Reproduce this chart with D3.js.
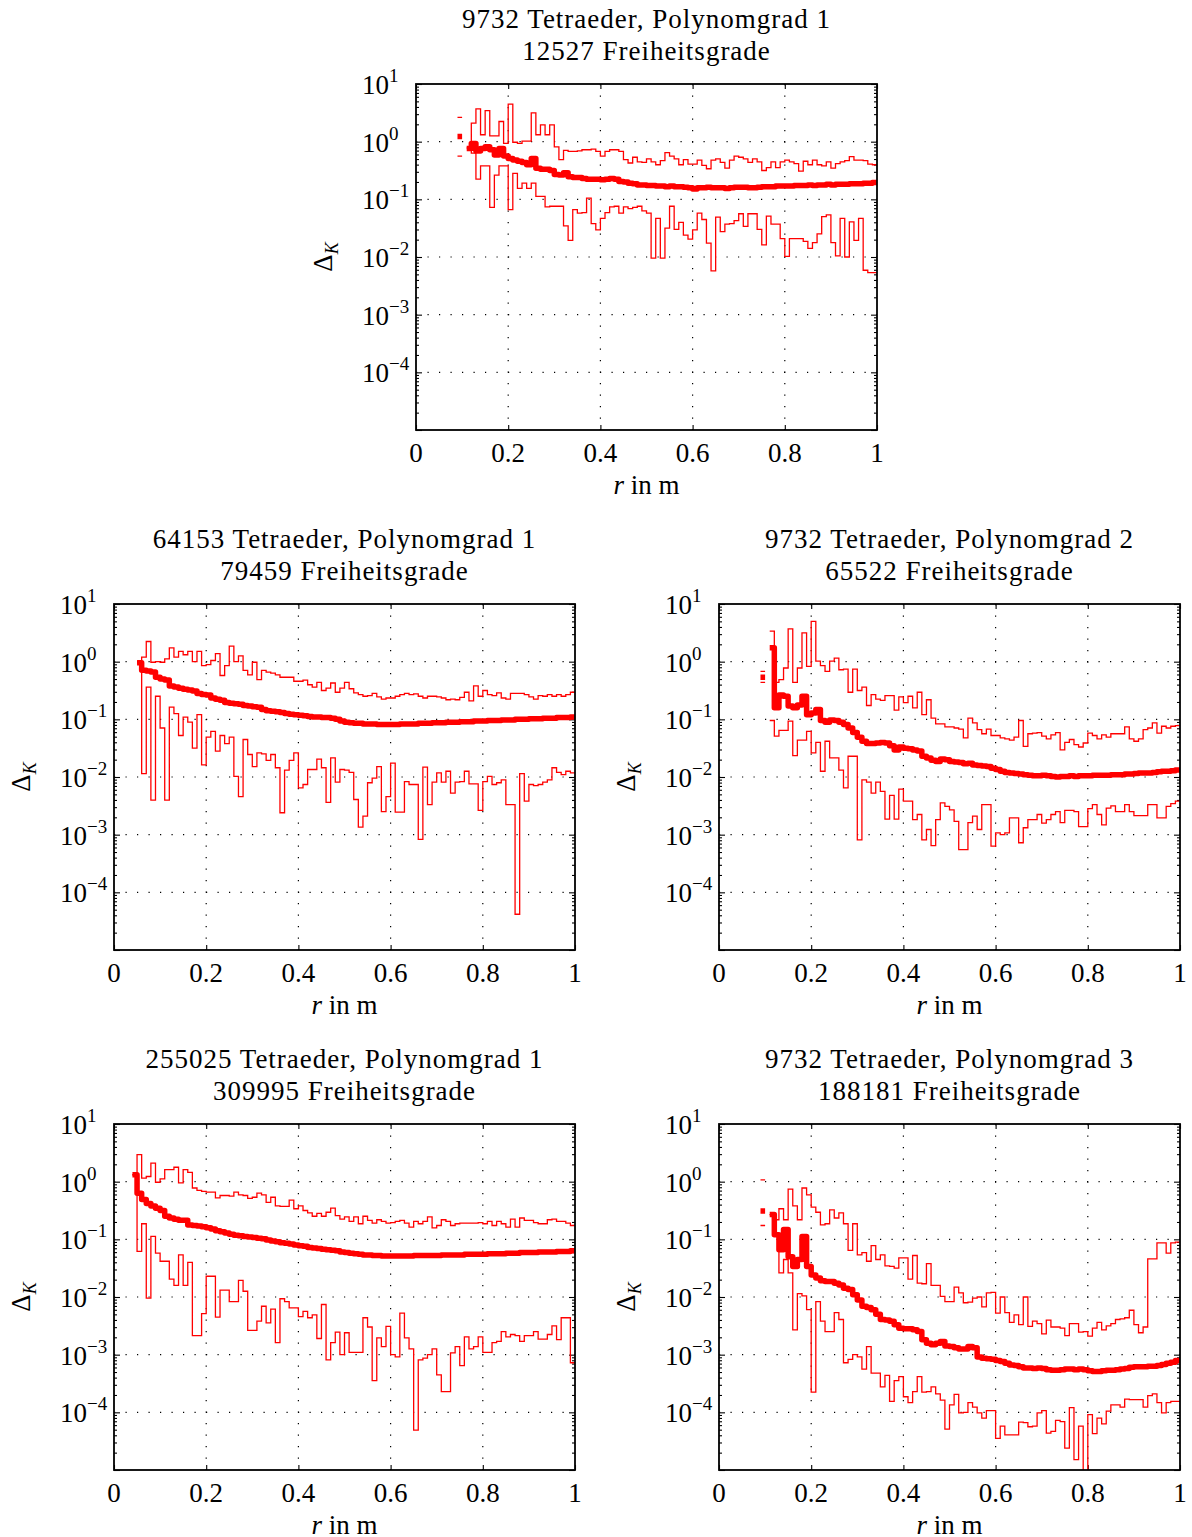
<!DOCTYPE html>
<html>
<head>
<meta charset="utf-8">
<script src="https://cdn.jsdelivr.net/npm/d3@7"></script>
<style>
  body { margin: 0; background: #fff; }
  svg text { font-family: "Liberation Serif", "Times New Roman", serif; fill: #000; }
  .grid { stroke: #000; stroke-width: 1.2; stroke-dasharray: 1.2 10.3; }
  .tick line { stroke: #000; stroke-width: 1.1; }
</style>
</head>
<body>
<svg id="chart" width="1192" height="1537"></svg>
<script>
// all values are log10(Delta_K) per radial bin of width 0.01 (bin i = [i/100, (i+1)/100]), null = empty bin
const _ = null
const binW = 0.01

const xTicks = [0, 0.2, 0.4, 0.6, 0.8, 1]
const yExp = [-5, -4, -3, -2, -1, 0, 1]
const yLabelExp = [-4, -3, -2, -1, 0, 1]

// 9732 Tetraeder, Polynomgrad 1
const aMax = [
  _,_,_,_,_,_,_,_,_,0.42,
  _,-0.10,0.32,0.57,0.12,0.54,0.10,0.10,0.35,-0.03,
  0.65,-0.01,-0.03,0.01,0.01,0.50,0.12,0.29,0.12,0.29,
  -0.09,-0.31,-0.15,-0.17,-0.17,-0.16,-0.14,-0.14,-0.13,-0.17,
  -0.25,-0.17,-0.14,-0.14,-0.17,-0.31,-0.37,-0.27,-0.35,-0.36,
  -0.30,-0.35,-0.40,-0.33,-0.19,-0.25,-0.30,-0.40,-0.31,-0.39,
  -0.39,-0.32,-0.41,-0.47,-0.32,-0.30,-0.36,-0.46,-0.32,-0.25,
  -0.27,-0.30,-0.36,-0.30,-0.35,-0.50,-0.45,-0.35,-0.45,-0.35,
  -0.32,-0.35,-0.38,-0.51,-0.34,-0.40,-0.32,-0.40,-0.42,-0.35,
  -0.46,-0.38,-0.35,-0.33,-0.26,-0.32,-0.32,-0.33,-0.39,-0.40
]
const aMean = [
  _,_,_,_,_,_,_,_,_,0.09,
  _,-0.12,-0.03,-0.16,-0.12,-0.09,-0.14,-0.23,-0.12,-0.25,
  -0.29,-0.32,-0.34,-0.36,-0.40,-0.29,-0.46,-0.48,-0.48,-0.50,
  -0.57,-0.58,-0.54,-0.61,-0.62,-0.62,-0.64,-0.65,-0.65,-0.65,
  -0.66,-0.65,-0.64,-0.65,-0.69,-0.70,-0.72,-0.73,-0.75,-0.75,
  -0.76,-0.76,-0.77,-0.77,-0.78,-0.77,-0.78,-0.78,-0.79,-0.80,
  -0.82,-0.80,-0.80,-0.79,-0.80,-0.80,-0.80,-0.81,-0.80,-0.79,
  -0.79,-0.79,-0.80,-0.80,-0.79,-0.78,-0.78,-0.78,-0.77,-0.77,
  -0.77,-0.77,-0.76,-0.76,-0.76,-0.75,-0.76,-0.75,-0.75,-0.74,
  -0.75,-0.74,-0.74,-0.74,-0.73,-0.73,-0.73,-0.72,-0.72,-0.71
]
const aMin = [
  _,_,_,_,_,_,_,_,_,-0.25,
  _,-0.12,-0.20,-0.65,-0.42,-0.42,-1.14,-0.58,-0.42,-0.42,
  -1.18,-0.55,-0.81,-0.72,-0.81,-0.72,-0.95,-0.95,-1.13,-1.12,
  -1.12,-1.12,-1.46,-1.71,-1.18,-1.24,-1.23,-0.98,-1.42,-1.53,
  -1.33,-1.23,-1.13,-1.12,-1.24,-1.13,-1.16,-1.14,-1.12,-1.20,
  -1.24,-2.02,-1.33,-2.02,-1.50,-1.12,-1.52,-1.40,-1.62,-1.69,
  -1.53,-1.24,-1.35,-1.76,-2.24,-1.31,-1.56,-1.43,-1.42,-1.37,
  -1.25,-1.47,-1.25,-1.25,-1.52,-1.79,-1.29,-1.43,-1.43,-1.68,
  -1.99,-1.68,-1.68,-1.68,-1.73,-1.85,-1.75,-1.60,-1.30,-1.27,
  -1.75,-1.98,-1.33,-2.00,-1.39,-1.71,-1.33,-2.23,-2.27,-2.27
]

// 64153 Tetraeder, Polynomgrad 1
const bMax = [
  _,_,_,_,_,-0.02,0.08,0.35,-0.01,0.00,
  -0.01,0.05,0.24,0.08,0.18,0.12,0.18,0.00,0.18,-0.07,
  -0.05,0.02,0.14,-0.24,-0.07,0.27,0.00,0.10,-0.15,-0.23,
  -0.01,-0.31,-0.15,-0.18,-0.20,-0.23,-0.27,-0.27,-0.27,-0.34,
  -0.34,-0.32,-0.40,-0.44,-0.36,-0.50,-0.46,-0.37,-0.53,-0.46,
  -0.36,-0.47,-0.54,-0.57,-0.60,-0.59,-0.55,-0.61,-0.65,-0.63,
  -0.63,-0.60,-0.57,-0.55,-0.57,-0.56,-0.60,-0.63,-0.60,-0.60,
  -0.61,-0.63,-0.66,-0.65,-0.66,-0.62,-0.53,-0.68,-0.42,-0.60,
  -0.50,-0.57,-0.59,-0.54,-0.63,-0.65,-0.55,-0.55,-0.55,-0.57,
  -0.61,-0.65,-0.59,-0.60,-0.57,-0.60,-0.57,-0.60,-0.57,-0.53
]
const bMean = [
  _,_,_,_,_,-0.02,-0.15,-0.16,-0.18,-0.27,
  -0.30,-0.32,-0.42,-0.44,-0.46,-0.48,-0.49,-0.51,-0.55,-0.57,
  -0.58,-0.63,-0.65,-0.67,-0.71,-0.72,-0.73,-0.74,-0.76,-0.77,
  -0.78,-0.79,-0.83,-0.85,-0.86,-0.87,-0.88,-0.90,-0.91,-0.92,
  -0.93,-0.94,-0.95,-0.96,-0.96,-0.97,-0.97,-0.98,-1.00,-1.03,
  -1.05,-1.06,-1.07,-1.07,-1.08,-1.08,-1.08,-1.09,-1.09,-1.09,
  -1.09,-1.09,-1.08,-1.08,-1.08,-1.08,-1.07,-1.07,-1.07,-1.06,
  -1.06,-1.06,-1.05,-1.05,-1.05,-1.04,-1.04,-1.04,-1.03,-1.03,
  -1.03,-1.02,-1.02,-1.02,-1.01,-1.01,-1.01,-1.00,-1.00,-1.00,
  -0.99,-0.99,-0.99,-0.98,-0.98,-0.98,-0.97,-0.97,-0.97,-0.96
]
const bMin = [
  _,_,_,_,_,-0.02,-1.94,-0.44,-2.40,-0.60,
  -1.15,-2.40,-0.79,-0.90,-1.28,-0.96,-1.05,-1.50,-0.92,-1.79,
  -1.31,-1.21,-1.55,-1.28,-1.42,-1.31,-1.99,-2.34,-1.35,-1.61,
  -1.82,-1.58,-1.60,-1.71,-1.61,-1.84,-2.62,-1.88,-1.71,-1.58,
  -2.19,-2.13,-1.87,-1.87,-1.69,-1.84,-2.44,-1.67,-2.09,-1.87,
  -1.88,-1.92,-2.39,-2.87,-2.68,-2.10,-2.02,-1.82,-2.60,-2.34,
  -1.76,-2.61,-2.61,-2.08,-2.13,-2.13,-3.08,-1.83,-2.48,-2.09,
  -1.93,-2.09,-1.90,-2.28,-2.09,-2.08,-1.90,-2.12,-2.12,-2.58,
  -2.08,-1.99,-2.13,-2.10,-2.05,-2.48,-2.48,-4.38,-1.94,-2.42,
  -2.13,-2.15,-2.13,-2.09,-2.05,-1.84,-1.92,-1.96,-1.90,-1.93
]

// 9732 Tetraeder, Polynomgrad 2
const cMax = [
  _,_,_,_,_,_,_,_,_,-0.17,
  _,0.53,-0.36,-0.31,-0.11,0.57,-0.36,-0.11,0.50,-0.08,
  0.70,0.01,-0.07,-0.17,0.01,0.06,-0.14,-0.13,-0.53,-0.13,
  -0.50,-0.44,-0.76,-0.57,-0.65,-0.67,-0.59,-0.59,-0.84,-0.61,
  -0.71,-0.60,-0.80,-0.53,-0.92,-0.66,-0.98,-1.08,-1.08,-1.13,
  -1.13,-1.15,-1.17,-1.32,-0.98,-1.06,-1.18,-1.25,-1.17,-1.28,
  -1.28,-1.32,-1.34,-1.36,-1.31,-1.02,-1.47,-1.25,-1.24,-1.23,
  -1.29,-1.34,-1.27,-1.23,-1.53,-1.40,-1.35,-1.44,-1.48,-1.41,
  -1.24,-1.28,-1.34,-1.27,-1.31,-1.25,-1.25,-1.25,-1.13,-1.34,
  -1.38,-1.34,-1.18,-1.15,-1.06,-1.24,-1.12,-1.15,-1.12,-1.11
]
const cMean = [
  _,_,_,_,_,_,_,_,_,-0.27,
  _,0.24,-0.80,-0.58,-0.60,-0.77,-0.80,-0.75,-0.60,-0.92,
  -0.89,-0.83,-1.02,-1.05,-1.01,-1.02,-1.05,-1.09,-1.15,-1.23,
  -1.31,-1.38,-1.42,-1.42,-1.41,-1.40,-1.41,-1.46,-1.53,-1.48,
  -1.50,-1.51,-1.53,-1.55,-1.64,-1.67,-1.71,-1.73,-1.69,-1.70,
  -1.73,-1.74,-1.75,-1.77,-1.76,-1.79,-1.80,-1.81,-1.82,-1.85,
  -1.87,-1.90,-1.92,-1.93,-1.94,-1.95,-1.96,-1.97,-1.98,-1.98,
  -1.97,-1.98,-1.99,-2.00,-1.99,-1.99,-1.98,-1.99,-1.98,-1.98,
  -1.98,-1.97,-1.97,-1.97,-1.97,-1.96,-1.96,-1.96,-1.95,-1.95,
  -1.94,-1.93,-1.93,-1.93,-1.92,-1.91,-1.90,-1.90,-1.89,-1.88
]
const cMin = [
  _,_,_,_,_,_,_,_,_,-0.36,
  _,-1.02,-1.29,-1.19,-1.19,-1.03,-1.63,-1.36,-1.36,-1.21,
  -1.58,-1.40,-1.90,-1.38,-1.67,-1.67,-1.88,-2.19,-1.64,-1.64,
  -3.09,-2.05,-2.09,-2.28,-2.09,-2.25,-2.73,-2.32,-2.73,-2.21,
  -2.42,-2.42,-2.74,-2.65,-3.09,-2.91,-3.19,-2.74,-2.45,-2.51,
  -2.57,-2.77,-3.26,-3.26,-2.79,-2.68,-2.91,-2.48,-2.48,-3.20,
  -2.97,-3.00,-2.97,-2.71,-2.71,-3.14,-2.88,-2.74,-2.74,-2.65,
  -2.80,-2.74,-2.65,-2.60,-2.79,-2.58,-2.58,-2.60,-2.86,-2.86,
  -2.55,-2.48,-2.65,-2.83,-2.54,-2.50,-2.60,-2.60,-2.48,-2.60,
  -2.67,-2.67,-2.67,-2.48,-2.48,-2.71,-2.71,-2.51,-2.46,-2.42
]

// 255025 Tetraeder, Polynomgrad 1
const dMax = [
  _,_,_,_,0.12,0.47,0.06,0.09,0.32,-0.01,
  0.05,0.21,0.21,0.25,-0.02,0.21,0.16,-0.11,-0.15,-0.17,
  -0.18,-0.18,-0.28,-0.24,-0.24,-0.25,-0.18,-0.23,-0.24,-0.29,
  -0.27,-0.20,-0.23,-0.36,-0.27,-0.42,-0.43,-0.43,-0.32,-0.47,
  -0.42,-0.50,-0.54,-0.60,-0.55,-0.60,-0.53,-0.46,-0.59,-0.65,
  -0.61,-0.69,-0.61,-0.73,-0.60,-0.67,-0.72,-0.66,-0.69,-0.72,
  -0.71,-0.69,-0.67,-0.72,-0.79,-0.69,-0.73,-0.69,-0.61,-0.80,
  -0.76,-0.66,-0.69,-0.76,-0.73,-0.72,-0.72,-0.72,-0.72,-0.71,
  -0.73,-0.69,-0.76,-0.69,-0.73,-0.79,-0.65,-0.79,-0.63,-0.67,
  -0.67,-0.71,-0.73,-0.73,-0.66,-0.65,-0.69,-0.69,-0.72,-0.76
]
const dMean = [
  _,_,_,_,0.12,-0.20,-0.31,-0.38,-0.42,-0.46,
  -0.50,-0.60,-0.63,-0.65,-0.67,-0.67,-0.75,-0.76,-0.77,-0.78,
  -0.80,-0.82,-0.85,-0.87,-0.89,-0.91,-0.93,-0.94,-0.95,-0.96,
  -0.97,-0.98,-0.99,-1.01,-1.03,-1.04,-1.06,-1.07,-1.08,-1.10,
  -1.11,-1.12,-1.14,-1.15,-1.16,-1.17,-1.18,-1.19,-1.20,-1.22,
  -1.23,-1.24,-1.25,-1.26,-1.27,-1.27,-1.28,-1.28,-1.29,-1.29,
  -1.29,-1.29,-1.29,-1.29,-1.29,-1.28,-1.28,-1.28,-1.28,-1.28,
  -1.28,-1.27,-1.27,-1.27,-1.27,-1.27,-1.26,-1.26,-1.26,-1.26,
  -1.26,-1.25,-1.25,-1.25,-1.25,-1.24,-1.24,-1.24,-1.23,-1.23,
  -1.23,-1.23,-1.22,-1.22,-1.22,-1.22,-1.21,-1.21,-1.21,-1.20
]
const dMin = [
  _,_,_,_,0.12,-1.21,-0.73,-2.02,-0.95,-1.24,
  -1.38,-1.38,-1.69,-1.80,-1.27,-1.80,-1.40,-2.67,-2.67,-2.29,
  -1.64,-1.64,-2.35,-1.88,-1.88,-2.08,-2.08,-1.71,-1.90,-2.58,
  -2.58,-2.42,-2.16,-2.45,-2.21,-2.79,-2.03,-2.08,-2.19,-2.19,
  -2.34,-2.25,-2.36,-2.31,-2.72,-2.13,-3.09,-2.79,-2.61,-3.00,
  -2.62,-2.96,-2.96,-2.96,-2.36,-2.52,-3.45,-2.71,-2.86,-2.51,
  -3.00,-3.04,-2.28,-2.71,-2.90,-4.31,-3.09,-3.06,-3.00,-2.90,
  -3.35,-3.64,-3.64,-2.97,-2.86,-3.19,-2.69,-2.90,-2.86,-2.69,
  -2.96,-2.96,-2.79,-2.77,-2.60,-2.69,-2.65,-2.67,-2.77,-2.67,
  -2.67,-2.60,-2.73,-2.73,-2.65,-2.50,-2.74,-2.36,-2.36,-3.14
]

// 9732 Tetraeder, Polynomgrad 3
const eMax = [
  _,_,_,_,_,_,_,_,_,0.03,
  _,-0.57,-0.66,-0.47,-0.66,-0.13,-0.42,-0.66,-0.11,-0.23,
  -0.44,-0.53,-0.75,-0.73,-0.49,-0.63,-0.54,-0.73,-1.19,-0.73,
  -1.27,-1.23,-1.38,-1.11,-1.35,-1.27,-1.46,-1.47,-1.50,-1.32,
  -1.32,-1.69,-1.28,-1.76,-1.77,-1.42,-1.80,-1.80,-1.99,-2.08,
  -2.08,-1.83,-1.93,-2.10,-2.09,-2.02,-2.00,-2.17,-1.93,-1.92,
  -2.28,-2.00,-2.27,-2.44,-2.31,-2.48,-2.00,-2.51,-2.42,-2.46,
  -2.64,-2.40,-2.52,-2.52,-2.54,-2.67,-2.46,-2.46,-2.61,-2.60,
  -2.68,-2.54,-2.44,-2.57,-2.50,-2.46,-2.39,-2.38,-2.36,-2.23,
  -2.48,-2.62,-2.52,-1.34,-1.34,-1.06,-1.06,-1.24,-1.06,-1.05
]
const eMean = [
  _,_,_,_,_,_,_,_,_,-0.51,
  _,-0.57,-0.92,-1.18,-0.83,-1.30,-1.47,-1.35,-0.95,-1.47,
  -1.62,-1.67,-1.72,-1.73,-1.73,-1.76,-1.79,-1.85,-1.87,-1.96,
  -2.05,-2.16,-2.18,-2.22,-2.30,-2.39,-2.40,-2.42,-2.48,-2.54,
  -2.55,-2.55,-2.57,-2.60,-2.74,-2.80,-2.83,-2.80,-2.77,-2.85,
  -2.86,-2.88,-2.90,-2.90,-2.86,-2.88,-3.04,-3.06,-3.07,-3.08,
  -3.10,-3.12,-3.15,-3.18,-3.19,-3.21,-3.23,-3.23,-3.24,-3.23,
  -3.24,-3.26,-3.27,-3.27,-3.26,-3.25,-3.25,-3.26,-3.25,-3.26,
  -3.28,-3.29,-3.29,-3.28,-3.27,-3.27,-3.26,-3.25,-3.24,-3.22,
  -3.21,-3.21,-3.21,-3.20,-3.20,-3.19,-3.17,-3.15,-3.13,-3.10
]
const eMin = [
  _,_,_,_,_,_,_,_,_,-0.76,
  _,-0.57,-0.95,-1.58,-1.35,-1.58,-2.57,-1.94,-1.98,-2.22,
  -3.65,-2.08,-2.42,-2.60,-2.60,-2.27,-2.39,-3.14,-3.08,-3.00,
  -3.04,-3.25,-2.86,-3.32,-3.32,-3.56,-3.36,-3.81,-3.45,-3.38,
  -3.73,-3.83,-3.64,-3.38,-3.65,-3.64,-3.56,-3.68,-3.79,-4.29,
  -3.87,-3.69,-4.01,-4.00,-3.83,-3.91,-4.01,-4.10,-3.97,-3.97,
  -4.45,-4.24,-4.39,-4.39,-4.39,-4.17,-4.18,-4.25,-4.24,-4.01,
  -3.97,-4.36,-4.33,-4.14,-4.16,-4.62,-3.92,-4.82,-4.24,-5.30,
  -4.04,-4.37,-4.10,-4.20,-3.98,-3.87,-3.87,-3.91,-3.77,-3.78,
  -3.78,-3.78,-3.91,-3.71,-3.68,-3.83,-4.01,-3.83,-3.81,-3.81
]

const panels = [
  { t1: '9732 Tetraeder, Polynomgrad 1', t2: '12527 Freiheitsgrade', left: 416, top: 84, max: aMax, mean: aMean, min: aMin },
  { t1: '64153 Tetraeder, Polynomgrad 1', t2: '79459 Freiheitsgrade', left: 114, top: 604, max: bMax, mean: bMean, min: bMin },
  { t1: '9732 Tetraeder, Polynomgrad 2', t2: '65522 Freiheitsgrade', left: 719, top: 604, max: cMax, mean: cMean, min: cMin },
  { t1: '255025 Tetraeder, Polynomgrad 1', t2: '309995 Freiheitsgrade', left: 114, top: 1124, max: dMax, mean: dMean, min: dMin },
  { t1: '9732 Tetraeder, Polynomgrad 3', t2: '188181 Freiheitsgrade', left: 719, top: 1124, max: eMax, mean: eMean, min: eMin }
]

const W = 461, H = 346
const svg = d3.select('#chart')
const x = d3.scaleLinear().domain([0, 1]).range([0, W])
const y = d3.scaleLog().domain([1e-5, 10]).range([H, 0])

const minorTicks = []
yExp.slice(0, -1).forEach(e => { for (let m = 2; m < 10; m++) minorTicks.push(m * Math.pow(10, e)) })

// stairs: every bin gives a flat piece, neighbours join with vertical steps
function stairs(vals) {
  const pts = []
  vals.forEach((v, i) => {
    if (v == null) { pts.push(null); return }
    pts.push([i * binW, Math.pow(10, v)], [(i + 1) * binW, Math.pow(10, v)])
  })
  return pts
}
const line = d3.line().defined(d => d != null).x(d => x(d[0])).y(d => y(d[1]))

panels.forEach((p, pi) => {
  const g = svg.append('g').attr('transform', `translate(${p.left},${p.top})`)

  // dotted grid
  g.append('g').selectAll('line').data(xTicks.slice(1, -1)).join('line')
    .attr('class', 'grid').attr('x1', d => x(d)).attr('x2', d => x(d)).attr('y1', 0).attr('y2', H)
  g.append('g').selectAll('line').data(yExp.slice(1, -1)).join('line')
    .attr('class', 'grid').attr('y1', d => y(Math.pow(10, d))).attr('y2', d => y(Math.pow(10, d))).attr('x1', 0).attr('x2', W)

  // inward ticks on all four sides
  g.append('g').attr('transform', `translate(0,${H})`)
    .call(d3.axisBottom(x).tickValues(xTicks).tickSize(-5).tickSizeOuter(0).tickFormat(''))
  g.append('g')
    .call(d3.axisTop(x).tickValues(xTicks).tickSize(-5).tickSizeOuter(0).tickFormat(''))
  g.append('g')
    .call(d3.axisLeft(y).tickValues(yExp.map(e => Math.pow(10, e))).tickSize(-6).tickSizeOuter(0).tickFormat(''))
  g.append('g')
    .call(d3.axisLeft(y).tickValues(minorTicks).tickSize(-3).tickSizeOuter(0).tickFormat(''))
  g.append('g').attr('transform', `translate(${W},0)`)
    .call(d3.axisRight(y).tickValues(yExp.map(e => Math.pow(10, e))).tickSize(-6).tickSizeOuter(0).tickFormat(''))
  g.append('g').attr('transform', `translate(${W},0)`)
    .call(d3.axisRight(y).tickValues(minorTicks).tickSize(-3).tickSizeOuter(0).tickFormat(''))
  g.selectAll('.domain').remove()

  // data
  const clipId = 'clip' + pi
  g.append('clipPath').attr('id', clipId).append('rect').attr('width', W).attr('height', H)
  const dg = g.append('g').attr('clip-path', `url(#${clipId})`)
  ;[p.max, p.min].forEach(s => {
    dg.append('path').attr('d', line(stairs(s)))
      .attr('fill', 'none').attr('stroke', '#ff0000').attr('stroke-width', 1.3)
  })
  dg.append('path').attr('d', line(stairs(p.mean)))
    .attr('fill', 'none').attr('stroke', '#ff0000').attr('stroke-width', 5.5)
    .attr('stroke-linejoin', 'round')

  // box
  g.append('rect').attr('width', W).attr('height', H)
    .attr('fill', 'none').attr('stroke', '#000').attr('stroke-width', 1.8)

  // x tick labels
  g.append('g').selectAll('text').data(xTicks).join('text')
    .attr('x', d => x(d)).attr('y', H + 32).attr('text-anchor', 'middle')
    .attr('font-size', 27).text(d => d3.format('~g')(d))

  // y tick labels 10^n
  const yl = g.append('g').selectAll('text').data(yLabelExp).join('text')
    .attr('x', -54).attr('y', d => y(Math.pow(10, d)) + 10).attr('font-size', 27)
  yl.append('tspan').text('10')
  yl.append('tspan').attr('font-size', 19).attr('dy', -12)
    .text(d => (d < 0 ? '\u2212' : '') + Math.abs(d))

  // axis labels
  const xl = g.append('text').attr('x', W / 2).attr('y', H + 64)
    .attr('text-anchor', 'middle').attr('font-size', 27)
  xl.append('tspan').attr('font-style', 'italic').text('r')
  xl.append('tspan').text(' in m')

  const ylab = g.append('text')
    .attr('transform', `translate(-84,${H / 2}) rotate(-90)`)
    .attr('text-anchor', 'middle').attr('font-size', 27)
  ylab.append('tspan').text('\u0394')
  ylab.append('tspan').attr('font-size', 18).attr('font-style', 'italic').attr('dy', 6).text('K')

  // title
  g.append('text').attr('x', W / 2).attr('y', -56).attr('text-anchor', 'middle')
    .attr('font-size', 27).attr('letter-spacing', 1).text(p.t1)
  g.append('text').attr('x', W / 2).attr('y', -24).attr('text-anchor', 'middle')
    .attr('font-size', 27).attr('letter-spacing', 1).text(p.t2)
})
</script>
</body>
</html>
